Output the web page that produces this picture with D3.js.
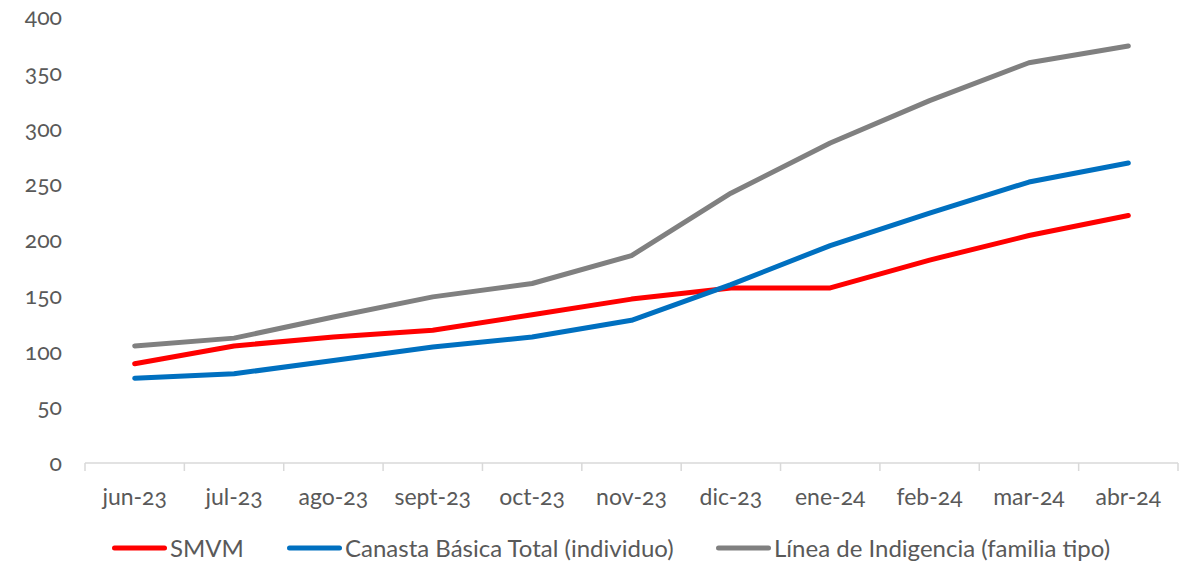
<!DOCTYPE html>
<html>
<head>
<meta charset="utf-8">
<script src="https://cdn.jsdelivr.net/npm/d3@7/dist/d3.min.js"></script>
<style>
  html, body { margin: 0; padding: 0; background: #fff; }
  svg { display: block; }
  text { font-family: Lato, "Open Sans", sans-serif; fill: #595959;
         font-variant-numeric: oldstyle-nums; font-feature-settings: "onum" 1; }
</style>
</head>
<body>
<svg id="chart" width="1183" height="562"></svg>
<script>
// Months on the horizontal axis
const months = ["jun-23", "jul-23", "ago-23", "sept-23", "oct-23", "nov-23",
                "dic-23", "ene-24", "feb-24", "mar-24", "abr-24"];

// Index series (one value per month)
const smvm = [89, 105, 113, 119, 133, 147, 157, 157, 182, 204, 222];
const canastaBasica = [76, 80, 92, 104, 113, 128, 160, 195, 224, 252, 269];
const lineaIndigencia = [105, 112, 131, 149, 161, 186, 242, 287, 325, 359, 374];

// Vertical axis ticks
const yTicks = [0, 50, 100, 150, 200, 250, 300, 350, 400];

const seriesNames = ["SMVM", "Canasta Básica Total (individuo)", "Línea de Indigencia (familia tipo)"];
const seriesColors = ["#ff0000", "#0070c0", "#808080"];

const series = [
  { name: seriesNames[0], values: smvm, color: seriesColors[0] },
  { name: seriesNames[1], values: canastaBasica, color: seriesColors[1] },
  { name: seriesNames[2], values: lineaIndigencia, color: seriesColors[2] }
];

const svg = d3.select("#chart");
const plotLeft = 85, plotRight = 1178, plotTop = 17, plotBottom = 463;

const x = d3.scaleBand().domain(months).range([plotLeft, plotRight]).padding(0);
const y = d3.scaleLinear().domain([0, 400]).range([plotBottom, plotTop]);

// x axis: light baseline with downward ticks at category boundaries
const xAxis = svg.append("g").attr("transform", `translate(0,${plotBottom})`);
xAxis.append("line")
  .attr("x1", plotLeft).attr("x2", plotRight)
  .attr("stroke", "#d9d9d9").attr("stroke-width", 1.5);
const bounds = months.map(m => x(m)).concat([plotRight]);
xAxis.selectAll("line.tick").data(bounds).join("line")
  .attr("class", "tick")
  .attr("x1", d => d).attr("x2", d => d)
  .attr("y1", 0).attr("y2", 8)
  .attr("stroke", "#d9d9d9").attr("stroke-width", 1.5);
xAxis.selectAll("text").data(months).join("text")
  .attr("x", d => x(d) + x.bandwidth() / 2)
  .attr("y", 42)
  .attr("text-anchor", "middle")
  .attr("font-size", 23)
  .text(d => d);

// y axis labels only
svg.append("g").selectAll("text").data(yTicks).join("text")
  .attr("x", 62)
  .attr("y", d => y(d) + 8)
  .attr("text-anchor", "end")
  .attr("font-size", 23)
  .text(d => d);

// Lines
const line = d3.line()
  .x((d, i) => x(months[i]) + x.bandwidth() / 2)
  .y(d => y(d));

svg.append("g").selectAll("path").data(series).join("path")
  .attr("d", d => line(d.values))
  .attr("fill", "none")
  .attr("stroke", d => d.color)
  .attr("stroke-width", 5)
  .attr("stroke-linecap", "round")
  .attr("stroke-linejoin", "round");

// Legend
const legendX = [112, 287, 716];
const legend = svg.append("g").selectAll("g").data(series).join("g")
  .attr("transform", (d, i) => `translate(${legendX[i]},548)`);
legend.append("line")
  .attr("x1", 2.5).attr("x2", 52.5)
  .attr("stroke", d => d.color).attr("stroke-width", 5)
  .attr("stroke-linecap", "round");
legend.append("text")
  .attr("x", 58).attr("y", 9)
  .attr("font-size", 24)
  .text(d => d.name);
</script>
</body>
</html>
